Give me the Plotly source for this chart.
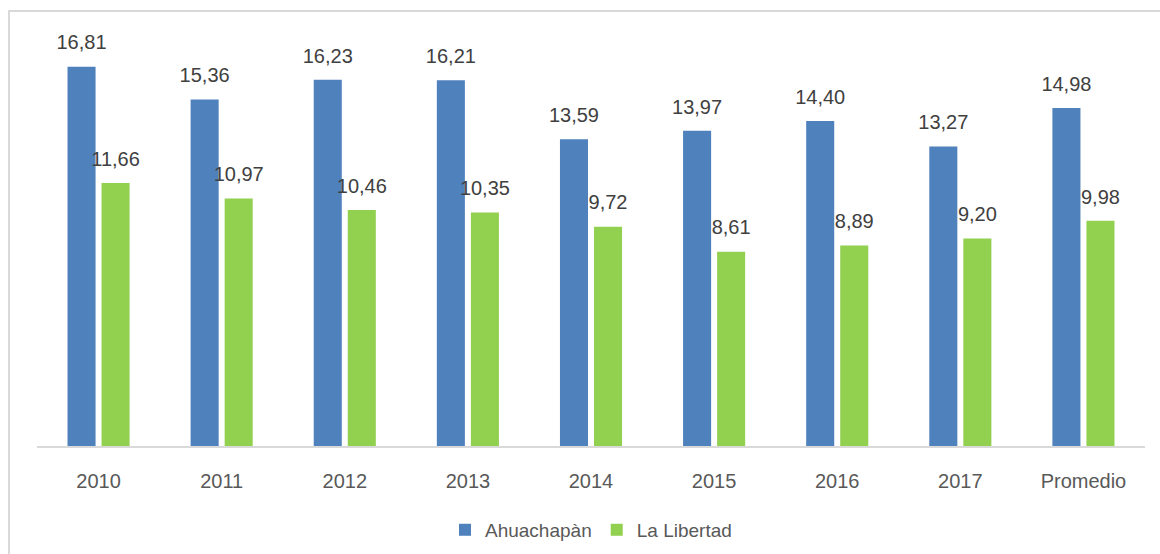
'''Bar chart: Ahuachapàn vs La Libertad, 2010-2017 and average.'''

import plotly.graph_objects as go

categories = ['2010', '2011', '2012', '2013', '2014', '2015', '2016', '2017', 'Promedio']
ahuachapan = [16.81, 15.36, 16.23, 16.21, 13.59, 13.97, 14.40, 13.27, 14.98]
la_libertad = [11.66, 10.97, 10.46, 10.35, 9.72, 8.61, 8.89, 9.20, 9.98]

FONT = 'Liberation Sans Narrow, Arial Narrow, Liberation Sans, Arial, sans-serif'
BLUE = '#4F81BD'
GREEN = '#92D050'
GAP = 0.447


def main():
    '''Build and save the figure.'''
    fig = go.Figure()
    series = [('Ahuachapàn', ahuachapan, BLUE, 'a'), ('La Libertad', la_libertad, GREEN, 'b')]
    for name, values, color, group in series:
        fig.add_trace(go.Bar(
            x=categories, y=values, name=name, marker_color=color,
            marker_line_width=0, offsetgroup=group,
            hoverinfo='skip',
        ))
    # value labels, lifted a bit above each bar
    for name, values, color, group in series:
        fig.add_trace(go.Scatter(
            x=categories, y=values, mode='markers+text',
            marker={'size': 18, 'color': 'rgba(0,0,0,0)'},
            text=[f'{v:.2f}'.replace('.', ',') for v in values],
            textposition='top center',
            textfont={'family': FONT, 'size': 20, 'color': '#404040'},
            offsetgroup=group,
            showlegend=False, hoverinfo='skip', cliponaxis=False,
        ))
    fig.update_layout(
        width=1160, height=554,
        barmode='group', bargap=GAP, bargroupgap=0.176,
        scattermode='group', scattergap=GAP,
        plot_bgcolor='white', paper_bgcolor='white',
        margin={'l': 37, 'r': 15, 't': 20, 'b': 108, 'autoexpand': False},
        font={'family': FONT, 'size': 20, 'color': '#595959'},
        xaxis={
            'range': [-0.5, len(categories) - 0.5], 'automargin': False,
            'showline': True, 'linecolor': '#d9d9d9', 'linewidth': 2,
            'ticks': 'outside', 'ticklen': 16, 'tickcolor': 'rgba(0,0,0,0)',
            'tickfont': {'size': 20, 'color': '#595959'},
        },
        yaxis={'range': [0, 18.88], 'visible': False, 'showgrid': False, 'automargin': False},
        legend={
            'orientation': 'h', 'x': 0.5, 'xanchor': 'center',
            'y': -0.197, 'yanchor': 'middle',
            'font': {'size': 19, 'color': '#595959'},
            'itemwidth': 30, 'traceorder': 'normal',
        },
        shapes=[{
            'type': 'rect', 'xref': 'paper', 'yref': 'paper',
            'x0': -0.0253, 'x1': 1.5, 'y0': -0.5, 'y1': 1.0211,
            'line': {'color': '#d9d9d9', 'width': 2}, 'layer': 'below',
        }],
    )
    fig.write_html(
        'out.html',
        config={'displayModeBar': False},
        post_script="document.body.style.margin='0';document.body.style.overflow='hidden';",
    )


if __name__ == '__main__':
    main()
